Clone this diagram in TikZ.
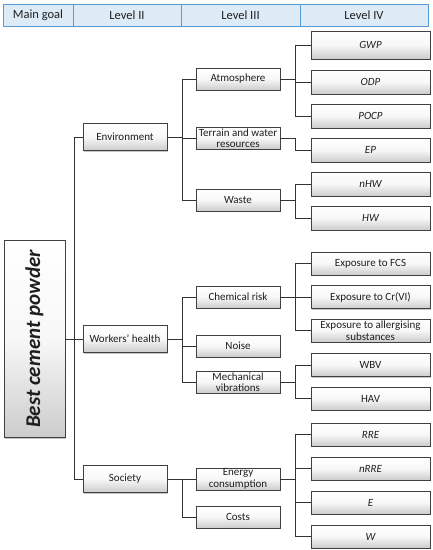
\documentclass[tikz,border=0pt]{standalone}
\usepackage{fontspec}
\setmainfont{Carlito}
\usetikzlibrary{shadows}
\definecolor{hdrfill}{HTML}{DDEBF7}
\definecolor{hdrline}{HTML}{5B9BD5}
\definecolor{txt}{HTML}{1F1F1F}
\tikzset{
  box/.style={draw=black!75, line width=0.7pt, top color=white, bottom color=black!20, middle color=black!3,
    drop shadow={shadow xshift=1.2pt, shadow yshift=-1.2pt, opacity=0.45},
    text=txt, font=\fontsize{11}{11.5}\selectfont, inner sep=0.5pt, align=center},
  lII/.style={box, minimum width=84pt, minimum height=27pt},
  lIII/.style={box, minimum width=84pt, minimum height=22pt},
  lIV/.style={box, minimum width=119pt, minimum height=23pt},
  hdr/.style={draw=hdrline, line width=0.8pt, fill=hdrfill, text=txt, font=\fontsize{12.5}{14}\selectfont},
  conn/.style={draw=black!80, line width=0.8pt},
}
\begin{document}
\begin{tikzpicture}[x=1pt,y=-1pt]
\useasboundingbox (0,0) rectangle (433,550);
% header
\node[hdr, minimum width=70pt, minimum height=22pt] (h1) at (38,15) {Main goal};
\node[hdr, minimum width=108pt, minimum height=22pt] (h2) at (127,15) {Level II};
\node[hdr, minimum width=119pt, minimum height=22pt] (h3) at (240.5,15) {Level III};
\node[hdr, minimum width=128pt, minimum height=22pt] (h4) at (364,15) {Level IV};
% trunk x positions
\coordinate (t2) at (74,0);
\coordinate (t3) at (182,0);
\coordinate (t4) at (295,0);
% main goal
\node[box, minimum width=61pt, minimum height=197pt] (main) at (34.5,339)
  {\rotatebox{90}{\fontsize{21}{22}\selectfont\bfseries\itshape Best cement powder}};
% level II
\node[lII] (env) at (125,137) {Environment};
\node[lII] (wh) at (125,339) {Workers’ health};
\node[lII] (soc) at (125,479) {Society};
% level III
\node[lIII] (atmo) at (238,79) {Atmosphere};
\node[lIII] (terr) at (238,138) {Terrain and water\\resources};
\node[lIII] (waste) at (238,200) {Waste};
\node[lIII] (chem) at (238,297) {Chemical risk};
\node[lIII] (noise) at (238,346) {Noise};
\node[lIII] (mech) at (238,382) {Mechanical\\vibrations};
\node[lIII] (energy) at (238,479) {Energy\\consumption};
\node[lIII] (costs) at (238,517) {Costs};
% level IV
\node[lIV, minimum height=28pt] (gwp) at (370.5,45) {\itshape GWP};
\node[lIV, minimum height=24pt] (odp) at (370.5,82) {\itshape ODP};
\node[lIV, minimum height=24pt] (pocp) at (370.5,116) {\itshape POCP};
\node[lIV, minimum height=24pt] (ep) at (370.5,150) {\itshape EP};
\node[lIV, minimum height=24pt] (nhw) at (370.5,184) {\itshape nHW};
\node[lIV, minimum height=24pt] (hw) at (370.5,218) {\itshape HW};
\node[lIV] (fcs) at (370.5,263.5) {Exposure to FCS};
\node[lIV] (cr) at (370.5,297) {Exposure to Cr(VI)};
\node[lIV] (allerg) at (370.5,330.5) {Exposure to allergising\\substances};
\node[lIV] (wbv) at (370.5,365) {WBV};
\node[lIV] (hav) at (370.5,398.5) {HAV};
\node[lIV] (rre) at (370.5,434.5) {\itshape RRE};
\node[lIV] (nrre) at (370.5,468.5) {\itshape nRRE};
\node[lIV] (e) at (370.5,502.5) {\itshape E};
\node[lIV] (w) at (370.5,536.5) {\itshape W};
% connectors: main to level II
\draw[conn] (main.east) -- (wh.west);
\draw[conn] (env.west) -- (env.west -| t2) |- (soc.west);
% level II to level III
\draw[conn] (env.east) -- (env.east -| t3);
\draw[conn] (atmo.west) -- (atmo.west -| t3) |- (waste.west);
\draw[conn] (terr.west) -- (terr.west -| t3);
\draw[conn] (wh.east) -- (wh.east -| t3);
\draw[conn] (chem.west) -- (chem.west -| t3) |- (mech.west);
\draw[conn] (noise.west) -- (noise.west -| t3);
\draw[conn] (soc.east) -- (energy.west);
\draw[conn] (energy.west -| t3) |- (costs.west);
% level III to level IV
\draw[conn] (atmo.east) -- (atmo.east -| t4);
\draw[conn] (gwp.west) -- (gwp.west -| t4) |- (pocp.west);
\draw[conn] (odp.west) -- (odp.west -| t4);
\draw[conn] (terr.east) -- (terr.east -| t4) |- (ep.west);
\draw[conn] (waste.east) -- (waste.east -| t4);
\draw[conn] (nhw.west) -- (nhw.west -| t4) |- (hw.west);
\draw[conn] (chem.east) -- (chem.east -| t4);
\draw[conn] (fcs.west) -- (fcs.west -| t4) |- (allerg.west);
\draw[conn] (cr.west) -- (cr.west -| t4);
\draw[conn] (mech.east) -- (mech.east -| t4);
\draw[conn] (wbv.west) -- (wbv.west -| t4) |- (hav.west);
\draw[conn] (energy.east) -- (energy.east -| t4);
\draw[conn] (rre.west) -- (rre.west -| t4) |- (w.west);
\draw[conn] (nrre.west) -- (nrre.west -| t4);
\draw[conn] (e.west) -- (e.west -| t4);
\end{tikzpicture}
\end{document}
